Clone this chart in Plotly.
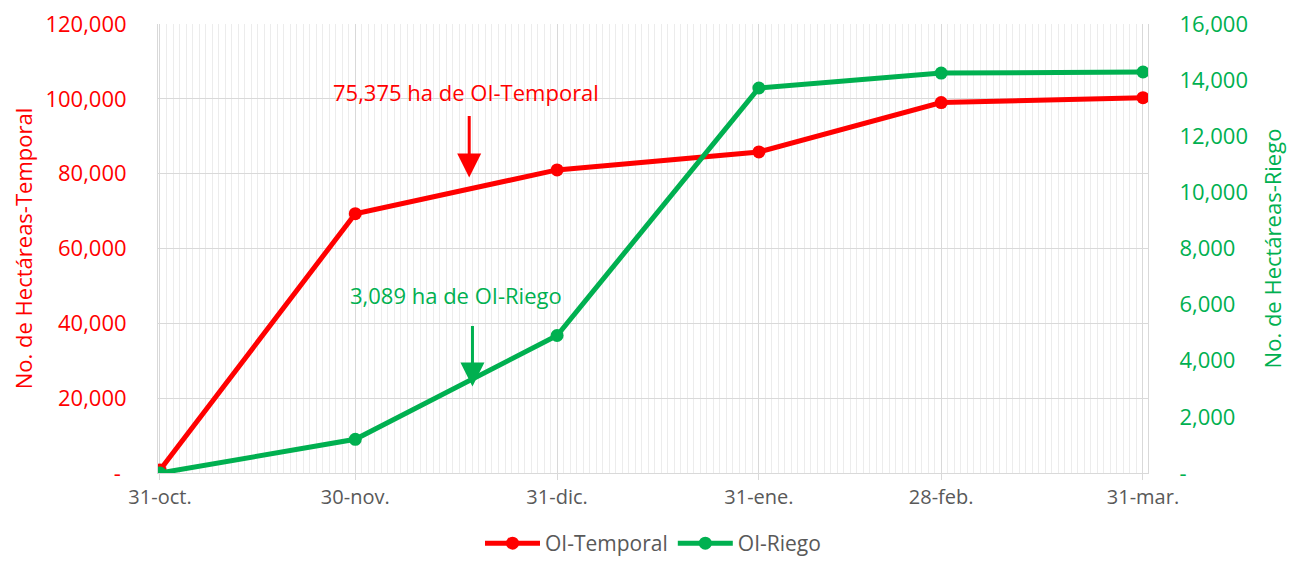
import plotly.graph_objects as go

# Data
dates = ["2022-10-31", "2022-11-30", "2022-12-31", "2023-01-31", "2023-02-28", "2023-03-31"]
tick_labels = ["31-oct.", "30-nov.", "31-dic.", "31-ene.", "28-feb.", "31-mar."]
temporal = [800, 69300, 81000, 85800, 99000, 100300]
riego = [0, 1200, 4900, 13720, 14250, 14290]

left_vals = [0, 20000, 40000, 60000, 80000, 100000, 120000]
left_text = ["-\u00a0", "20,000", "40,000", "60,000", "80,000", "100,000", "120,000"]
right_vals = [0, 2000, 4000, 6000, 8000, 10000, 12000, 14000, 16000]
right_text = ["-", "2,000", "4,000", "6,000", "8,000", "10,000", "12,000", "14,000", "16,000"]

RED = "#FF0000"
GREEN = "#00B050"
FONT = "Open Sans"

fig = go.Figure()
fig.add_trace(go.Scatter(x=dates, y=temporal, name="OI-Temporal", mode="lines+markers",
                         line=dict(color=RED, width=5), marker=dict(color=RED, size=13)))
fig.add_trace(go.Scatter(x=dates, y=riego, name="OI-Riego", mode="lines+markers", yaxis="y2",
                         line=dict(color=GREEN, width=5), marker=dict(color=GREEN, size=13)))

# page body has an 8px margin, so the figure is 16px smaller and margins shifted
fig.update_layout(
    width=1280, height=548,
    margin=dict(l=150, r=140, t=16, b=83, autoexpand=False),
    plot_bgcolor="white", paper_bgcolor="white",
    font=dict(family=FONT),
    showlegend=True,
    legend=dict(orientation="h", x=0.5, xanchor="center", y=-0.157, yanchor="middle",
                font=dict(size=21, color="#595959"), traceorder="normal", itemwidth=55),
    xaxis=dict(type="date", range=["2022-10-30 16:40", "2023-03-31 18:30"],
               tickmode="array", tickvals=dates, ticktext=tick_labels,
               tickfont=dict(size=20, color="#595959"),
               showgrid=True, gridcolor="#d9d9d9", gridwidth=1,
               ticks="outside", ticklen=6, tickcolor="#d9d9d9",
               showline=True, linecolor="#d9d9d9", automargin=False,
               minor=dict(dtick=86400000, tick0="2022-10-31", showgrid=True,
                          gridcolor="#ececec", gridwidth=1, ticks=""),
               zeroline=False),
    yaxis=dict(range=[0, 120000], tickmode="array", tickvals=left_vals, ticktext=left_text,
               tickfont=dict(size=22, color=RED), showgrid=True, gridcolor="#d9d9d9",
               showline=True, linecolor="#d9d9d9", zeroline=False, automargin=False,
               ticks="", ticklabelstandoff=26, ticklabeloverflow="allow",
               title=dict(text="No. de Hectáreas-Temporal", font=dict(size=22, color=RED), standoff=22)),
    yaxis2=dict(range=[0, 16000], overlaying="y", side="right", tickmode="array",
                tickvals=right_vals, ticktext=right_text,
                tickfont=dict(size=22, color=GREEN), showgrid=False,
                showline=True, linecolor="#d9d9d9", zeroline=False, automargin=False,
                ticks="", ticklabelstandoff=26, ticklabeloverflow="allow",
                title=dict(text="No. de Hectáreas-Riego", font=dict(size=22, color=GREEN), standoff=18)),
)

# Annotations
fig.add_annotation(x="2022-12-17 12:00", y=79000, xref="x", yref="y", text="",
                   showarrow=True, arrowhead=2, arrowsize=1.6, arrowwidth=3, arrowcolor=RED,
                   ax=0, ay=-63)
fig.add_annotation(x="2022-12-17", y=101800, xref="x", yref="y", text="75,375 ha de OI-Temporal",
                   showarrow=False, font=dict(size=22, color=RED))
fig.add_annotation(x="2022-12-18", y=3080, xref="x", yref="y2", text="",
                   showarrow=True, arrowhead=2, arrowsize=1.6, arrowwidth=3, arrowcolor=GREEN,
                   ax=0, ay=-62)
fig.add_annotation(x="2022-12-15 12:00", y=6350, xref="x", yref="y2", text="3,089 ha de OI-Riego",
                   showarrow=False, font=dict(size=22, color=GREEN))

fig.write_html("out.html")
